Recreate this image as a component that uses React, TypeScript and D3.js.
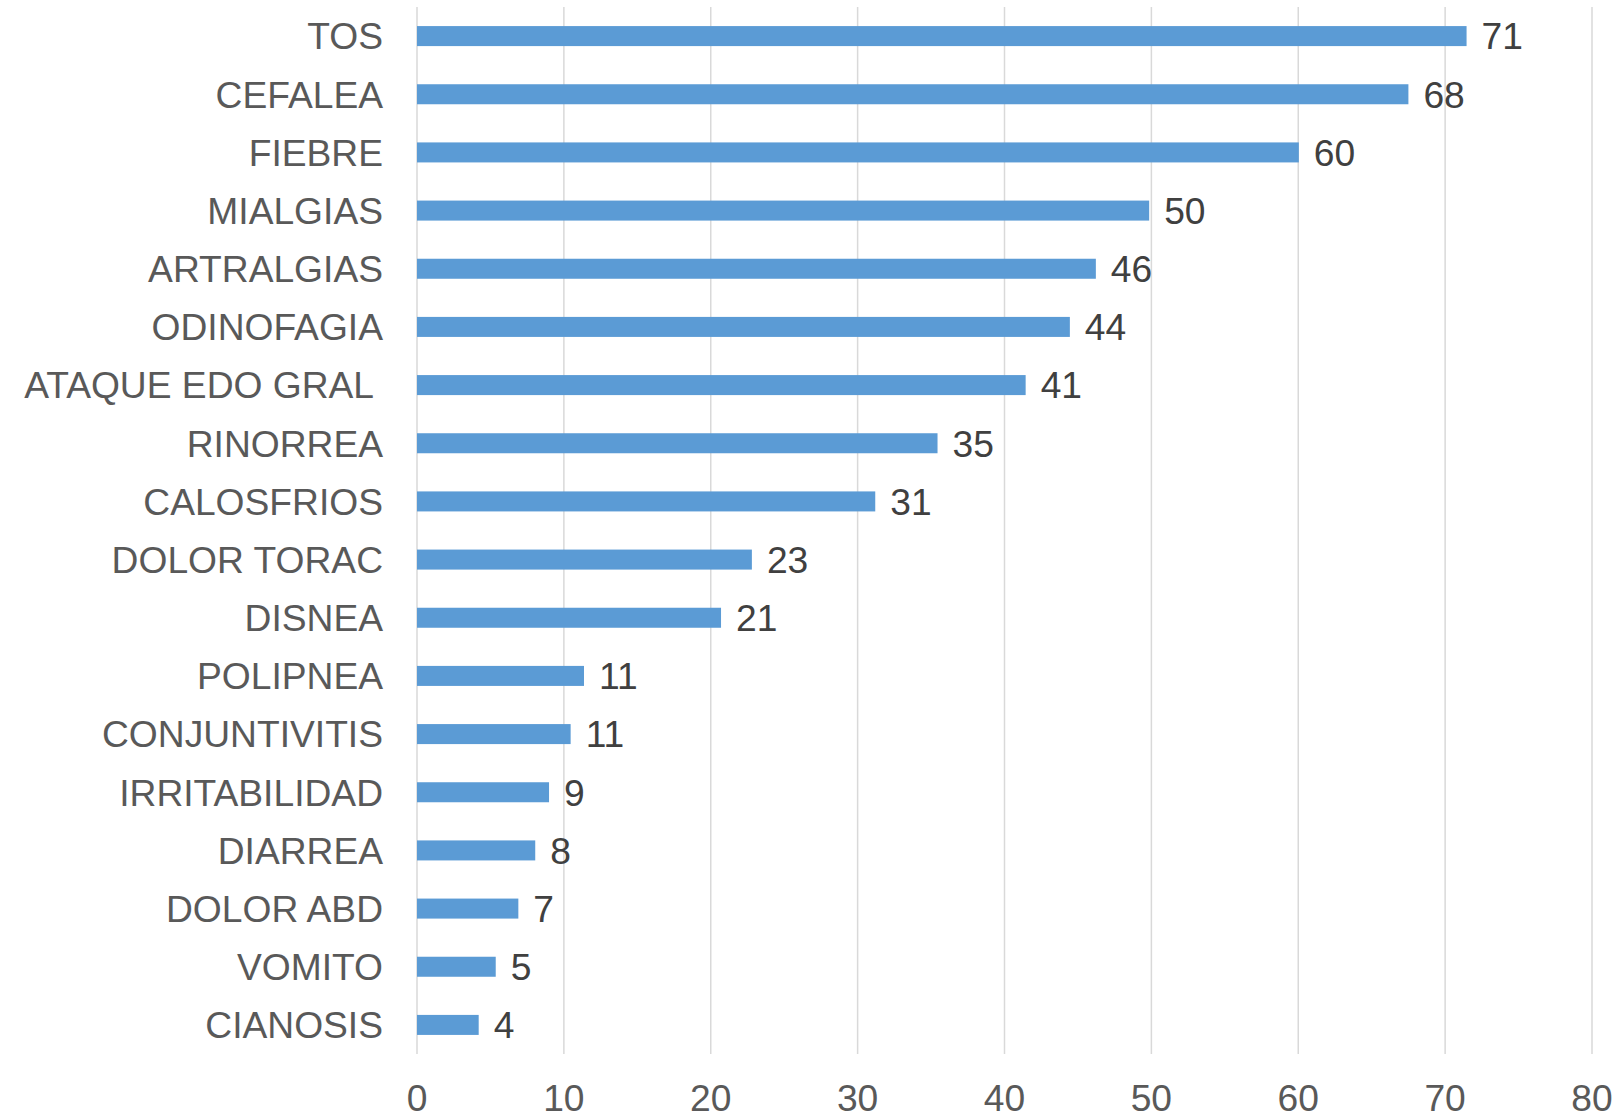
import React from "react";
import * as d3 from "d3";

const categories = [
  "TOS", "CEFALEA", "FIEBRE", "MIALGIAS", "ARTRALGIAS", "ODINOFAGIA",
  "ATAQUE EDO GRAL ", "RINORREA", "CALOSFRIOS", "DOLOR TORAC", "DISNEA",
  "POLIPNEA", "CONJUNTIVITIS", "IRRITABILIDAD", "DIARREA", "DOLOR ABD",
  "VOMITO", "CIANOSIS",
];
const values = [
  71.46, 67.5, 60.04, 49.85, 46.22, 44.45, 41.44, 35.44, 31.2, 22.8, 20.7,
  11.37, 10.46, 8.99, 8.05, 6.9, 5.36, 4.2,
];
const valueLabels = [
  "71", "68", "60", "50", "46", "44", "41", "35", "31", "23", "21",
  "11", "11", "9", "8", "7", "5", "4",
];
const xTicks = [0, 10, 20, 30, 40, 50, 60, 70, 80];

const W = 1615;
const H = 1115;
const FONT = "'Liberation Sans', Arial, sans-serif";
const FS = 37.2;

export default function App() {
  const x = d3.scaleLinear().domain([0, 80]).range([417, 1592]);
  const y = d3
    .scaleBand<string>()
    .domain(categories)
    .range([7, 1054])
    .paddingInner(0.656)
    .paddingOuter(0.328);

  return (
    <svg
      width={W}
      height={H}
      style={{ position: "absolute", left: 0, top: 0, background: "#fff" }}
      fontFamily={FONT}
    >
      <rect x={0} y={0} width={W} height={H} fill="#fff" />
      {xTicks.map((t) => (
        <line
          key={"g" + t}
          x1={x(t)}
          x2={x(t)}
          y1={7}
          y2={1054}
          stroke="#D9D9D9"
          strokeWidth={1.5}
        />
      ))}
      {categories.map((c, i) => {
        const yc = (y(c) as number) + y.bandwidth() / 2;
        return (
          <g key={c}>
            <rect
              x={x(0)}
              y={y(c)}
              width={x(values[i]) - x(0)}
              height={y.bandwidth()}
              fill="#5B9BD5"
            />
            <text
              x={383}
              y={yc + 0.36 * FS}
              textAnchor="end"
              fontSize={FS}
              fill="#595959"
              style={{ whiteSpace: "pre" }}
            >
              {c}
            </text>
            <text
              x={x(values[i]) + 15}
              y={yc + 0.36 * FS}
              fontSize={FS}
              fill="#404040"
            >
              {valueLabels[i]}
            </text>
          </g>
        );
      })}
      {xTicks.map((t) => (
        <text
          key={"t" + t}
          x={x(t)}
          y={1111}
          textAnchor="middle"
          fontSize={FS}
          fill="#595959"
        >
          {t}
        </text>
      ))}
    </svg>
  );
}
